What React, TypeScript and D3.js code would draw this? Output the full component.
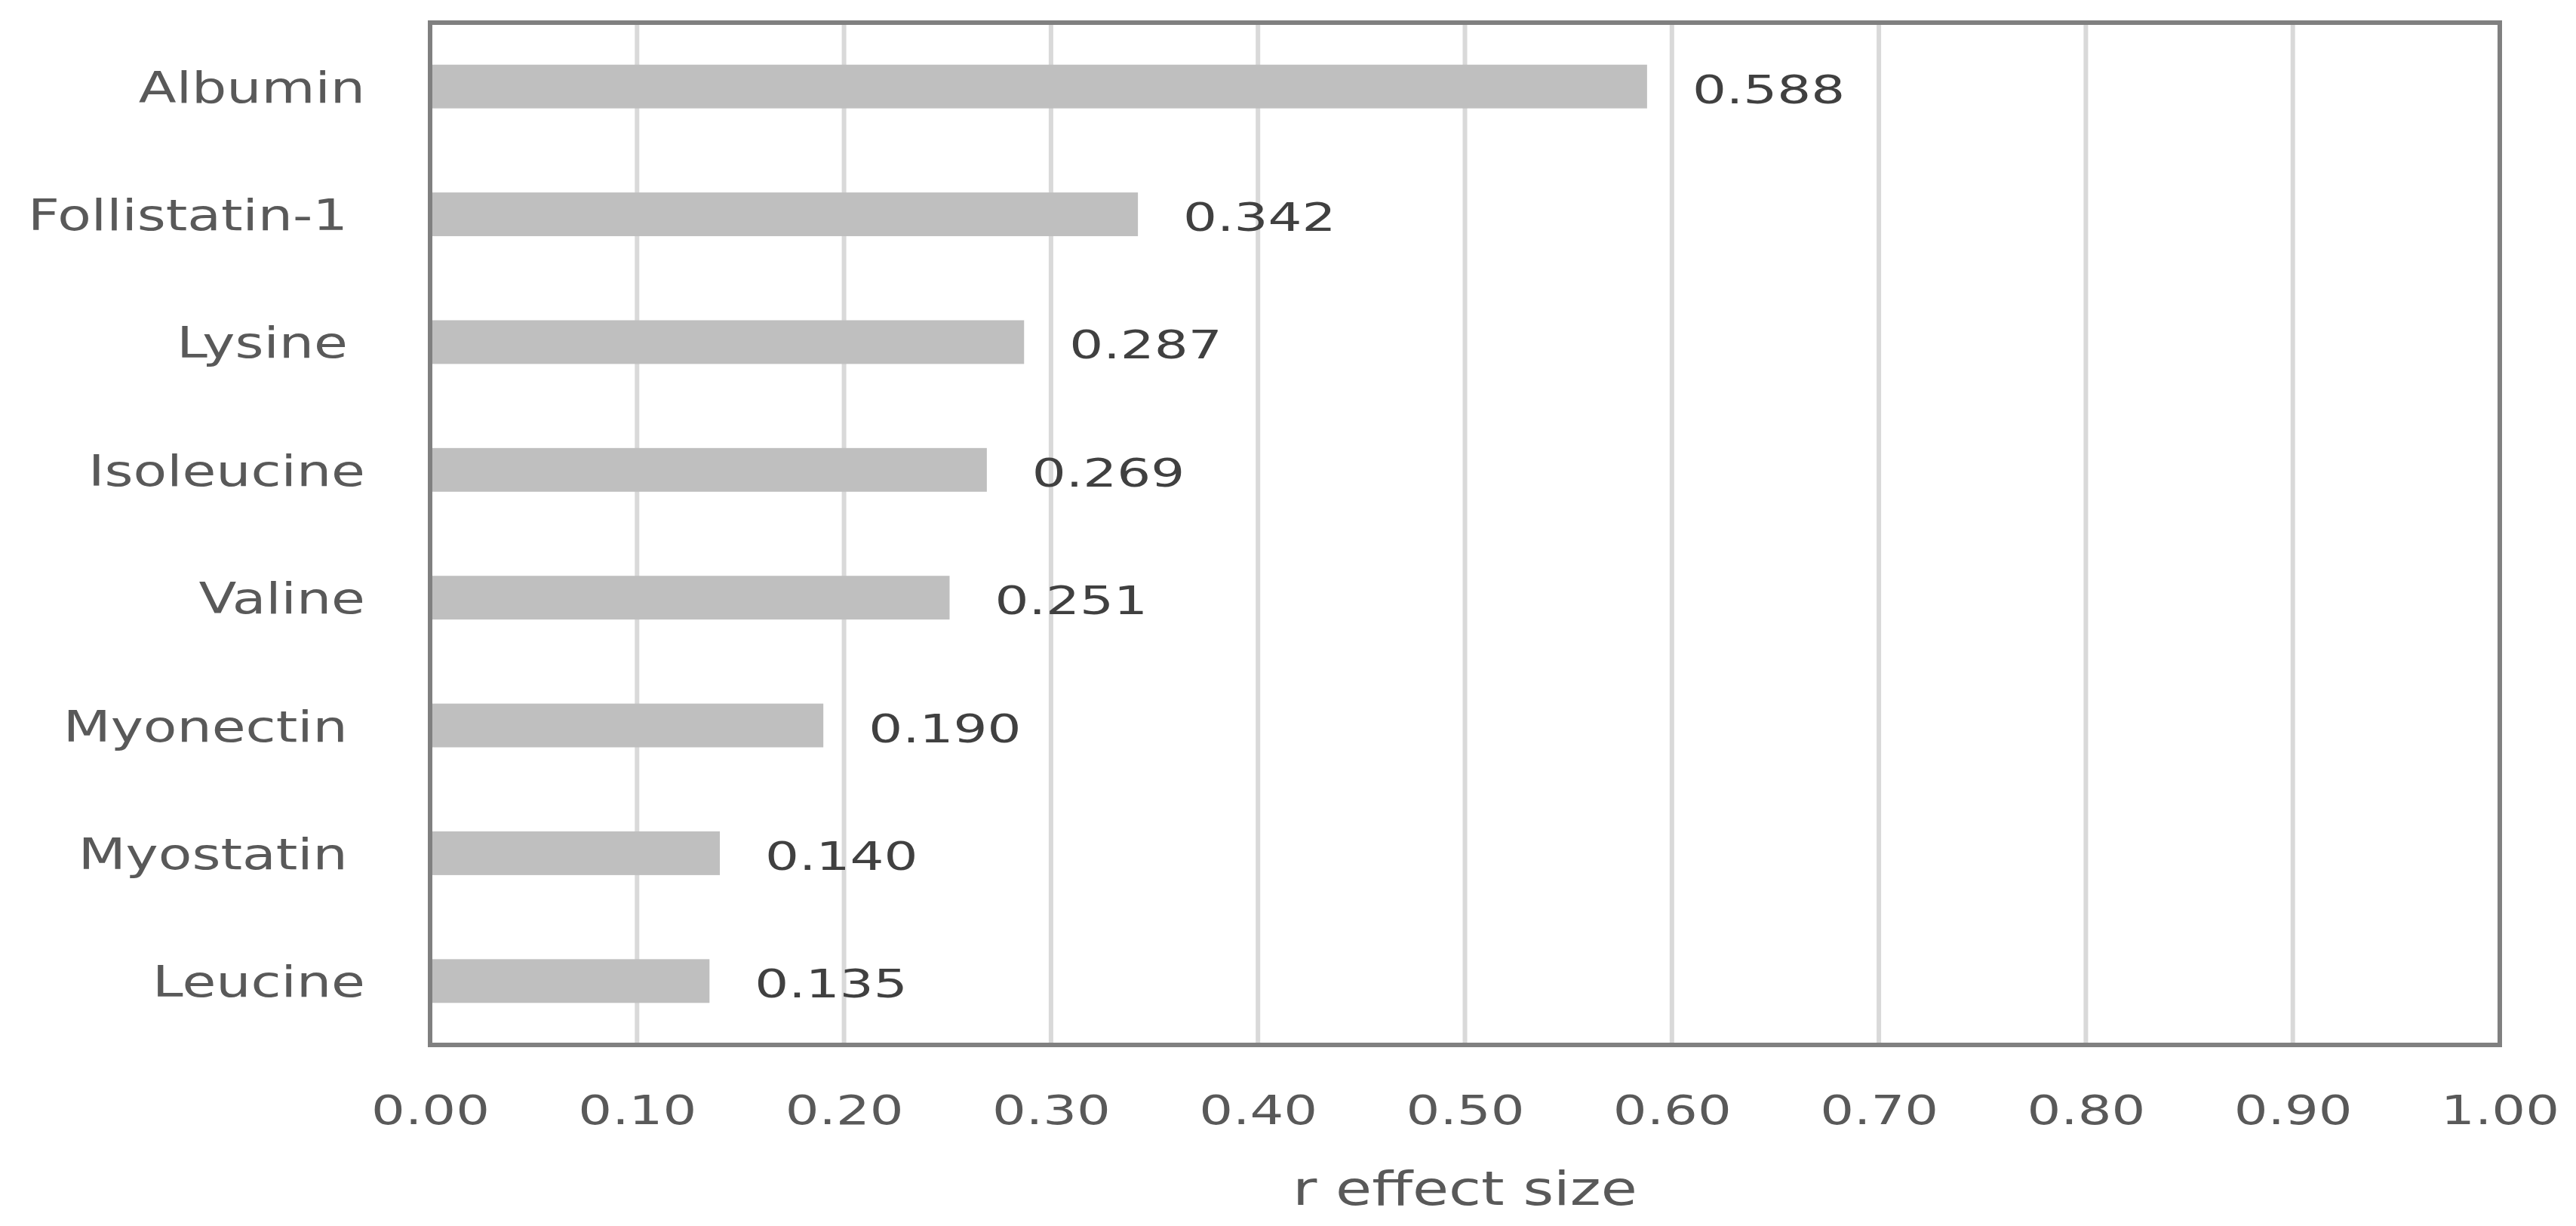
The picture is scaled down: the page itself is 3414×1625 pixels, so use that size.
import React from 'react';
import * as d3 from 'd3';
import { useEffect, useRef } from 'react';

// r effect sizes, top to bottom as in the chart
const categories: string[] = ['Albumin', 'Follistatin-1 ', 'Lysine ', 'Isoleucine', 'Valine', 'Myonectin ', 'Myostatin ', 'Leucine'];
const effectSizes: number[] = [0.588, 0.342, 0.287, 0.269, 0.251, 0.19, 0.14, 0.135];
const xTicks: number[] = [0, 0.1, 0.2, 0.3, 0.4, 0.5, 0.6, 0.7, 0.8, 0.9, 1.0];
const xTitle = 'r effect size';

const width = 3414;
const height = 1625;

const App = () => {
    const chartRef = useRef<SVGSVGElement | null>(null);

    useEffect((): void => {
        document.body.style.margin = '0';

        const svg = d3.select(chartRef.current);
        svg.selectAll('*').remove();

        const left = 570, right = 3313, top = 30, bottom = 1385;

        const xScale = d3.scaleLinear()
            .domain([0, 1])
            .range([left, right]);

        const yScale = d3.scaleBand()
            .domain(categories)
            .range([top, bottom])
            .paddingInner(0.658)
            .paddingOuter(0.329);

        const font = "'DejaVu Sans', sans-serif";

        // vertical gridlines
        svg.append('g')
            .selectAll('line')
            .data(xTicks.slice(1, -1))
            .enter()
            .append('line')
            .attr('x1', d => xScale(d))
            .attr('x2', d => xScale(d))
            .attr('y1', top)
            .attr('y2', bottom)
            .attr('stroke', '#d9d9d9')
            .attr('stroke-width', 6);

        // bars
        svg.append('g')
            .selectAll('rect')
            .data(effectSizes)
            .enter()
            .append('rect')
            .attr('x', xScale(0))
            .attr('y', (d, i) => yScale(categories[i]) ?? 0)
            .attr('width', d => xScale(d) - xScale(0))
            .attr('height', yScale.bandwidth())
            .attr('fill', '#bfbfbf');

        // plot frame
        svg.append('rect')
            .attr('x', left)
            .attr('y', top)
            .attr('width', right - left)
            .attr('height', bottom - top)
            .attr('fill', 'none')
            .attr('stroke', '#808080')
            .attr('stroke-width', 6);

        // value labels
        svg.append('g')
            .selectAll('text')
            .data(effectSizes)
            .enter()
            .append('text')
            .attr('transform', (d, i) => `translate(${xScale(d) + 60}, ${(yScale(categories[i]) ?? 0) + yScale.bandwidth() / 2 + 22}) scale(1.36,1)`)
            .style('font-family', font)
            .style('font-size', '52px')
            .attr('fill', '#404040')
            .text(d => d.toFixed(3));

        // category labels
        svg.append('g')
            .selectAll('text')
            .data(categories)
            .enter()
            .append('text')
            .attr('transform', d => `translate(484, ${(yScale(d) ?? 0) + yScale.bandwidth() / 2 + 21}) scale(1.28,1)`)
            .attr('text-anchor', 'end')
            .style('font-family', font)
            .style('font-size', '57px')
            .style('white-space', 'pre')
            .attr('fill', '#595959')
            .text(d => d);

        // x axis tick labels
        const xAxis = d3.axisBottom(xScale)
            .tickValues(xTicks)
            .tickSize(0)
            .tickPadding(0)
            .tickFormat(d => (d as number).toFixed(2));

        const axisG = svg.append('g')
            .attr('transform', `translate(0, ${bottom})`)
            .call(xAxis);
        axisG.select('.domain').remove();
        axisG.selectAll('text')
            .attr('y', 105)
            .attr('dy', 0)
            .attr('transform', 'scale(1.33,1)')
            .style('font-family', font)
            .style('font-size', '53px')
            .attr('fill', '#595959');

        // axis title
        svg.append('text')
            .attr('transform', `translate(${(left + right) / 2}, 1597) scale(1.26,1)`)
            .attr('text-anchor', 'middle')
            .style('font-family', font)
            .style('font-size', '62px')
            .attr('fill', '#595959')
            .text(xTitle);
    }, []);

    return (
        <>
            <svg ref={chartRef} width={width} height={height} style={{ display: 'block', background: '#ffffff' }}></svg>
        </>
    );
};

export default App;
